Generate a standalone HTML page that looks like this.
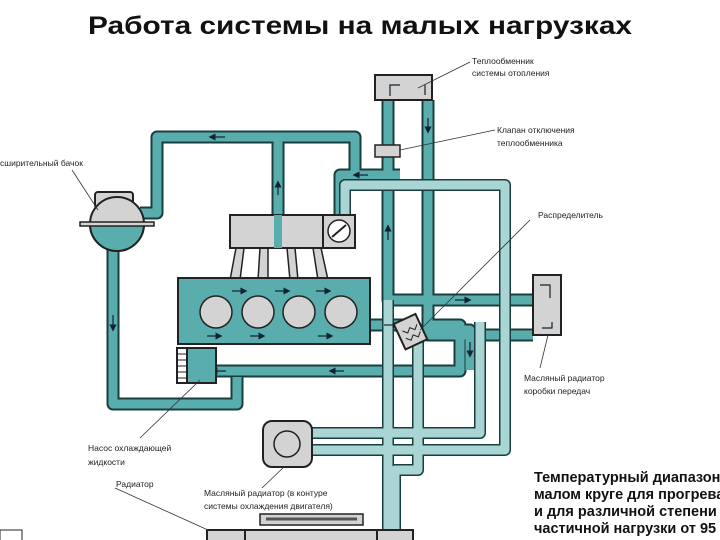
<!DOCTYPE html>
<html><head><meta charset="utf-8"><style>
body{margin:0;background:#fff;width:720px;height:540px;overflow:hidden}
svg{display:block}
text{font-family:"Liberation Sans",sans-serif}
</style></head><body>
<svg width="720" height="540" viewBox="0 0 720 540" xmlns="http://www.w3.org/2000/svg">
<defs>
<marker id="a" markerWidth="6" markerHeight="6" refX="3" refY="3" orient="auto"><path d="M0,0 L6,3 L0,6z" fill="#123"/></marker>
</defs>
<text x="88" y="34" font-size="25" font-weight="bold" fill="#111" textLength="544" lengthAdjust="spacingAndGlyphs">Работа системы на малых нагрузках</text>
<g fill="none" stroke-linejoin="round">
<g stroke="#1a3e3e" stroke-width="13">
<path d="M140,213 H157 V137 H355 V175 H400"/>
<path d="M278,137 V215"/>
<path d="M113,250 V404 H237 V377"/>
<path d="M216,371 H460 V325 H430"/>
<path d="M370,325 H410"/>
<path d="M388,100 V300 H533"/>
<path d="M428,100 V335 H533"/>
<path d="M388,175 H340 V215"/>
<path d="M428,330 H470 V370"/>
</g>
<g stroke="#5aadad" stroke-width="9">
<path d="M140,213 H157 V137 H355 V175 H400"/>
<path d="M278,137 V215"/>
<path d="M113,250 V404 H237 V377"/>
<path d="M216,371 H460 V325 H430"/>
<path d="M370,325 H410"/>
<path d="M388,100 V300 H533"/>
<path d="M428,100 V335 H533"/>
<path d="M388,175 H340 V215"/>
<path d="M428,330 H470 V370"/>
</g>
<g stroke="#1a3e3e" stroke-width="12">
<path d="M345,215 V185 H505 V450 H312"/>
<path d="M312,433 H480 V322"/>
<path d="M388,300 V530"/>
<path d="M418,340 V470 H395 V530"/>
</g>
<g stroke="#a9d6d4" stroke-width="9">
<path d="M345,215 V185 H505 V450 H312"/>
<path d="M312,433 H480 V322"/>
<path d="M388,300 V530"/>
<path d="M418,340 V470 H395 V530"/>
</g>
</g>
<rect x="95" y="192" width="38" height="16" rx="3" fill="#d3d3d3" stroke="#222" stroke-width="2"/>
<circle cx="117" cy="224" r="27" fill="#d3d3d3" stroke="#222" stroke-width="2"/>
<path d="M90,224 A27,27 0 0 0 144,224 Z" fill="#5aadad" stroke="#222" stroke-width="2"/>
<rect x="80" y="222" width="74" height="4" fill="#d3d3d3" stroke="#222" stroke-width="1.5"/>
<g fill="#d3d3d3" stroke="#222" stroke-width="1.5">
<path d="M236,248 L244,248 L240,280 L230,280Z"/>
<path d="M260,248 L268,248 L268,280 L258,280Z"/>
<path d="M287,248 L295,248 L298,280 L290,280Z"/>
<path d="M313,248 L321,248 L328,280 L318,280Z"/>
</g>
<rect x="230" y="215" width="93" height="33" fill="#d3d3d3" stroke="#222" stroke-width="2"/>
<rect x="274" y="215" width="8" height="33" fill="#5aadad"/>
<rect x="323" y="215" width="32" height="33" fill="#d3d3d3" stroke="#222" stroke-width="2"/>
<circle cx="339" cy="231" r="11" fill="#fff" stroke="#222" stroke-width="1.5"/>
<line x1="332" y1="237" x2="346" y2="225" stroke="#222" stroke-width="2"/>
<rect x="178" y="278" width="192" height="66" fill="#5aadad" stroke="#222" stroke-width="2"/>
<g fill="#d3d3d3" stroke="#222" stroke-width="1.5">
<circle cx="216" cy="312" r="16"/><circle cx="258" cy="312" r="16"/><circle cx="299" cy="312" r="16"/><circle cx="341" cy="312" r="16"/>
</g>
<g stroke="#123" stroke-width="1.2" marker-end="url(#a)">
<line x1="232" y1="291" x2="244" y2="291"/><line x1="275" y1="291" x2="287" y2="291"/><line x1="316" y1="291" x2="328" y2="291"/>
<line x1="207" y1="336" x2="219" y2="336"/><line x1="250" y1="336" x2="262" y2="336"/><line x1="318" y1="336" x2="330" y2="336"/>
<line x1="225" y1="137" x2="212" y2="137"/><line x1="278" y1="195" x2="278" y2="184"/>
<line x1="113" y1="315" x2="113" y2="328"/><line x1="388" y1="240" x2="388" y2="228"/>
<line x1="428" y1="118" x2="428" y2="130"/><line x1="368" y1="175" x2="356" y2="175"/>
<line x1="455" y1="300" x2="468" y2="300"/><line x1="424" y1="335" x2="412" y2="335"/>
<line x1="470" y1="342" x2="470" y2="354"/><line x1="344" y1="371" x2="332" y2="371"/>
<line x1="226" y1="371" x2="214" y2="371"/><line x1="384" y1="325" x2="396" y2="325"/>
</g>
<rect x="187" y="348" width="29" height="35" fill="#5aadad" stroke="#222" stroke-width="2"/>
<rect x="177" y="348" width="10" height="35" fill="#fff" stroke="#222" stroke-width="2"/>
<g stroke="#222" stroke-width="1"><line x1="177" y1="354" x2="187" y2="354"/><line x1="177" y1="360" x2="187" y2="360"/><line x1="177" y1="366" x2="187" y2="366"/><line x1="177" y1="372" x2="187" y2="372"/><line x1="177" y1="378" x2="187" y2="378"/></g>
<g transform="rotate(-25 410 333)"><rect x="399" y="318" width="24" height="28" fill="#d3d3d3" stroke="#222" stroke-width="2"/><path d="M404,328 l4,4 l4,-4 l4,4 l4,-4 M404,336 l4,4 l4,-4 l4,4 l4,-4" stroke="#222" fill="none"/></g>
<rect x="375" y="75" width="57" height="25" fill="#d3d3d3" stroke="#222" stroke-width="2"/>
<path d="M390,96 V85 H400 M425,85 V95" stroke="#123" fill="none" stroke-width="1.2"/>
<rect x="375" y="145" width="25" height="12" fill="#d3d3d3" stroke="#222" stroke-width="1.5"/>
<rect x="533" y="275" width="28" height="60" fill="#d3d3d3" stroke="#222" stroke-width="2"/>
<path d="M540,285 H550 V298 M552,322 V328 H542" stroke="#123" fill="none" stroke-width="1.2"/>
<rect x="263" y="421" width="49" height="46" rx="9" fill="#d3d3d3" stroke="#222" stroke-width="2"/>
<circle cx="287" cy="444" r="13" fill="#d3d3d3" stroke="#222" stroke-width="1.5"/>
<rect x="260" y="514" width="103" height="11" fill="#d3d3d3" stroke="#222" stroke-width="1.5"/>
<path d="M266,519 H357" stroke="#555" stroke-width="3"/>
<rect x="207" y="530" width="206" height="12" fill="#d3d3d3" stroke="#222" stroke-width="2"/>
<rect x="207" y="530" width="38" height="12" fill="#d3d3d3" stroke="#222" stroke-width="2"/>
<rect x="377" y="530" width="36" height="12" fill="#d3d3d3" stroke="#222" stroke-width="2"/>
<g stroke="#333" stroke-width="0.8">
<line x1="418" y1="88" x2="470" y2="62"/><line x1="400" y1="150" x2="495" y2="130"/>
<line x1="420" y1="330" x2="530" y2="220"/><line x1="548" y1="335" x2="540" y2="368"/>
<line x1="72" y1="170" x2="98" y2="210"/><line x1="200" y1="380" x2="140" y2="438"/>
<line x1="285" y1="466" x2="262" y2="488"/><line x1="115" y1="488" x2="208" y2="530"/>
</g>
<g font-size="8.5" fill="#222">
<text x="472" y="64">Теплообменник</text><text x="472" y="76">системы отопления</text>
<text x="497" y="133">Клапан отключения</text><text x="497" y="146">теплообменника</text>
<text x="538" y="218">Распределитель</text>
<text x="524" y="381">Масляный радиатор</text><text x="524" y="394">коробки передач</text>
<text x="0" y="166">сширительный бачок</text>
<text x="88" y="451">Насос охлаждающей</text><text x="88" y="465">жидкости</text>
<text x="116" y="487">Радиатор</text>
<text x="204" y="496">Масляный радиатор (в контуре</text><text x="204" y="509">системы охлаждения двигателя)</text>
</g>
<g font-size="14.5" font-weight="bold" fill="#111">
<text x="534" y="482">Температурный диапазон</text><text x="534" y="499">малом круге для прогрева</text>
<text x="534" y="516">и для различной степени</text><text x="534" y="533">частичной нагрузки от 95</text>
</g>
<rect x="0" y="530" width="22" height="12" fill="#fff" stroke="#222" stroke-width="1"/>
</svg>
</body></html>
